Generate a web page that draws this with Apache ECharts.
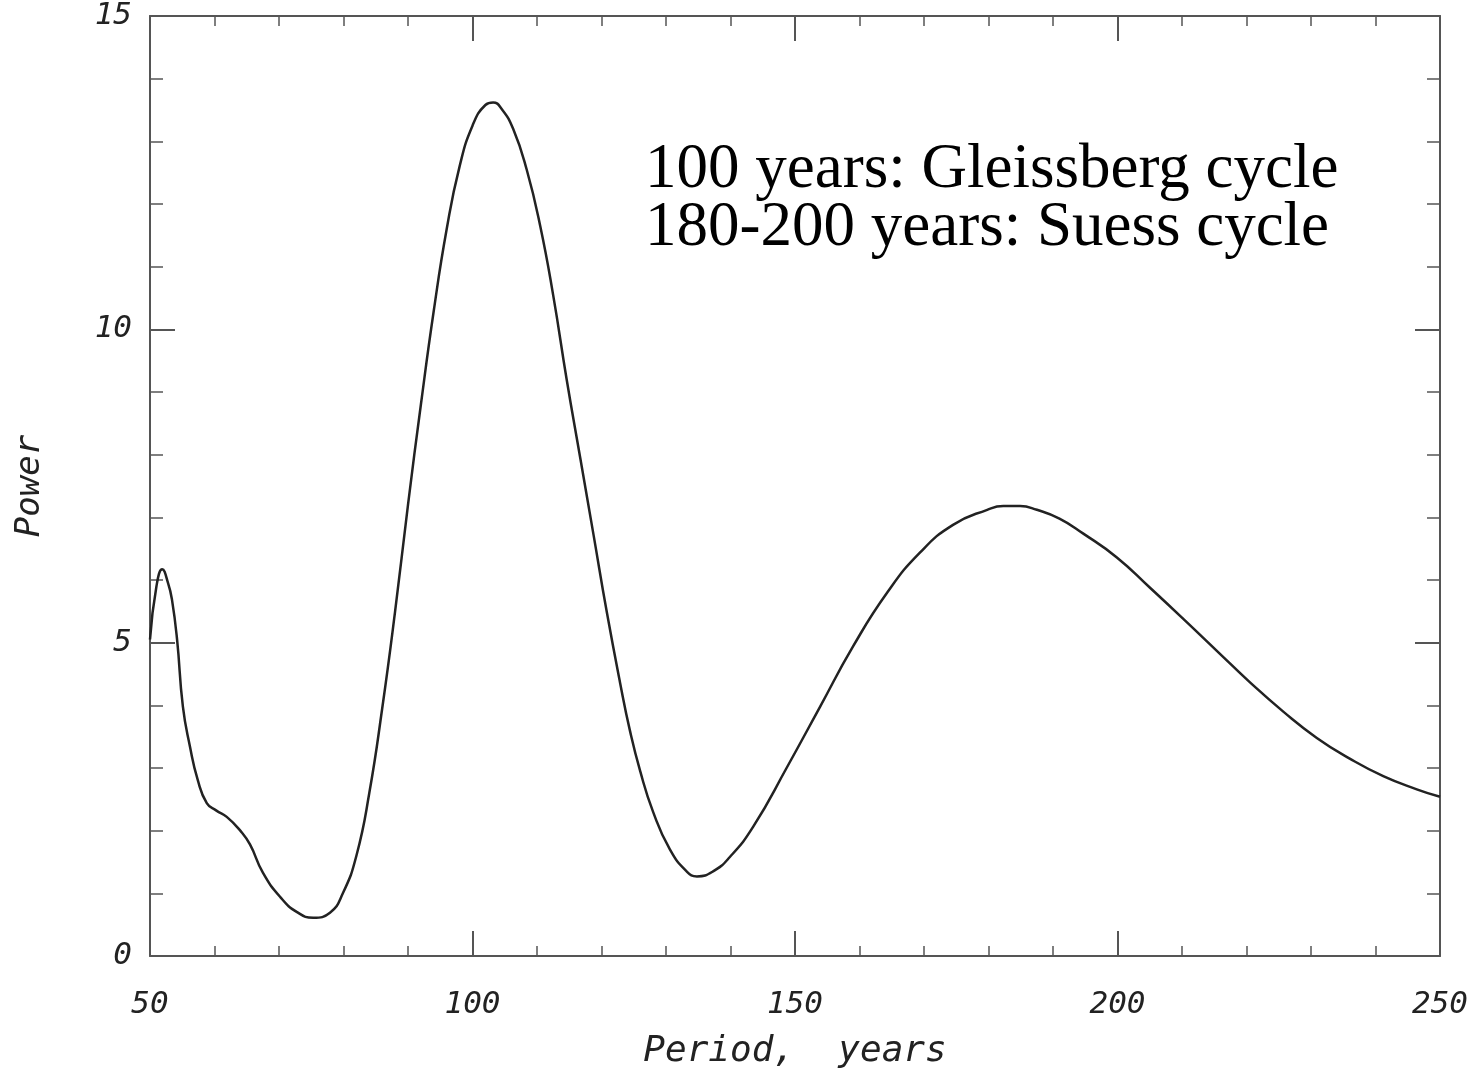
<!DOCTYPE html>
<html>
<head>
<meta charset="utf-8">
<script src="https://cdn.jsdelivr.net/npm/echarts@6/dist/echarts.min.js"></script>
<style>
html,body{margin:0;padding:0;background:#fff;}
#chart{width:1482px;height:1078px;}
</style>
</head>
<body>
<div id="chart"></div>
<script>
// Period (years)
const periods = [50, 51, 51.9, 52.8, 53.4, 54.2, 55.1, 56.2, 57.4, 58.8, 60.3, 61.9, 64.0, 65.5, 67.5, 70.2, 72.8, 75.3, 77.9, 79.9, 82, 84, 86, 88, 90, 92, 94, 96, 98, 100, 102, 103.2, 104.5, 106.3, 108.4, 110.5, 112.5, 114.6, 116.7, 118.8, 120.8, 122.9, 124.4, 126, 128, 130.6, 133.2, 134.8, 137.3, 139.9, 143.5, 148.8, 153.9, 159, 164.3, 169.4, 174.5, 179.8, 182.3, 184.9, 187.5, 191, 194.7, 199.9, 205, 210.2, 215.4, 220.5, 225.7, 230.9, 236, 241.2, 246.4, 250];
// Power
const power = [5.05, 5.9, 6.17, 5.95, 5.69, 5.05, 3.98, 3.34, 2.81, 2.44, 2.32, 2.22, 2.0, 1.78, 1.33, 0.94, 0.70, 0.61, 0.69, 1.0, 1.6, 2.6, 3.95, 5.5, 7.2, 8.8, 10.3, 11.6, 12.6, 13.25, 13.58, 13.62, 13.52, 13.2, 12.55, 11.65, 10.55, 9.2, 7.95, 6.7, 5.5, 4.35, 3.6, 2.95, 2.3, 1.7, 1.35, 1.27, 1.35, 1.58, 2.06, 3.02, 3.98, 4.94, 5.8, 6.44, 6.88, 7.12, 7.18, 7.18, 7.12, 6.98, 6.74, 6.36, 5.88, 5.38, 4.87, 4.37, 3.9, 3.48, 3.15, 2.87, 2.66, 2.54];
const annotationLines = ['100 years: Gleissberg cycle', '180-200 years: Suess cycle'];
const xTitle = 'Period,  years';
const yTitle = 'Power';

const chart = echarts.init(document.getElementById('chart'), null, {renderer: 'canvas'});
const axisColor = '#555';
const monoFont = 'DejaVu Sans Mono';
const labelFont = {fontStyle: 'italic', fontFamily: monoFont, fontSize: 31, color: '#222'};
const baseX = {
  type: 'value', min: 50, max: 250, interval: 50,
  axisLine: {show: true, onZero: false, lineStyle: {color: axisColor, width: 2}},
  axisTick: {show: true, inside: true, length: 25, lineStyle: {color: axisColor, width: 2}},
  minorTick: {show: true, splitNumber: 5, length: 10, lineStyle: {color: axisColor, width: 1.5}},
  splitLine: {show: false}, minorSplitLine: {show: false}
};
const baseY = {
  type: 'value', min: 0, max: 15, interval: 5,
  axisLine: {show: true, onZero: false, lineStyle: {color: axisColor, width: 2}},
  axisTick: {show: true, inside: true, length: 25, lineStyle: {color: axisColor, width: 2}},
  minorTick: {show: true, splitNumber: 5, length: 13, lineStyle: {color: axisColor, width: 1.5}},
  splitLine: {show: false}, minorSplitLine: {show: false}
};
chart.setOption({
  animation: false,
  backgroundColor: '#fff',
  grid: {left: 150, right: 42, top: 16, bottom: 122, containLabel: false},
  xAxis: [
    Object.assign({}, baseX, {
      position: 'bottom',
      axisLabel: Object.assign({margin: 33}, labelFont),
      name: xTitle, nameLocation: 'middle', nameGap: 78,
      nameTextStyle: {fontStyle: 'italic', fontFamily: monoFont, fontSize: 36, color: '#222'}
    }),
    Object.assign({}, baseX, {position: 'top', axisLabel: {show: false}})
  ],
  yAxis: [
    Object.assign({}, baseY, {
      position: 'left',
      axisLabel: Object.assign({margin: 18}, labelFont),
      name: yTitle, nameLocation: 'middle', nameGap: 103,
      nameTextStyle: {fontStyle: 'italic', fontFamily: monoFont, fontSize: 34, color: '#222'}
    }),
    Object.assign({}, baseY, {position: 'right', axisLabel: {show: false}})
  ],
  series: [{
    type: 'line',
    data: periods.map((p, i) => [p, power[i]]),
    smooth: true,
    showSymbol: false,
    lineStyle: {color: '#222', width: 2.5}
  }],
  graphic: [{
    type: 'text', left: 645, top: 139,
    style: {
      text: annotationLines.join('\n'),
      font: '63px "Liberation Serif"',
      lineHeight: 58,
      fill: '#000'
    }
  }]
});
</script>
</body>
</html>
